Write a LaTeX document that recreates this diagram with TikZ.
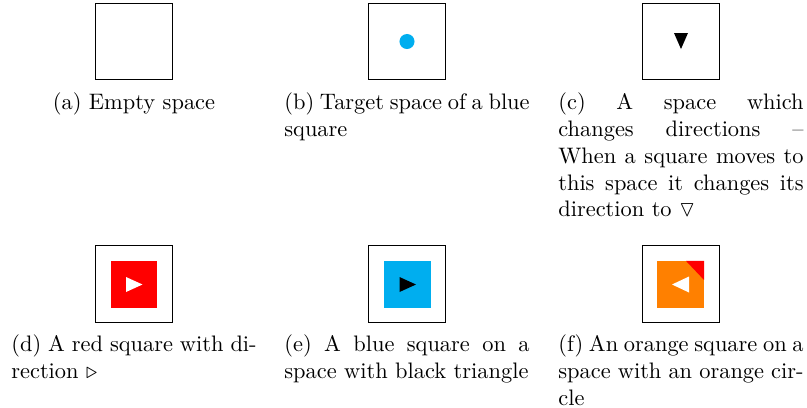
\documentclass[tikz,border=0pt]{standalone}
\usepackage{amsmath,amssymb}
\usetikzlibrary{positioning,calc}

\definecolor{tileblue}{RGB}{0,174,239}
\definecolor{tileorange}{RGB}{255,128,0}

\tikzset{
    spacebox/.style={draw, minimum size=34pt, inner sep=0pt},
    piece/.style={minimum size=20.6pt, inner sep=0pt},
    caption/.style={text width=109.5pt, inner sep=0pt, align=justify},
}

\begin{document}
\begin{tikzpicture}[x=0.4464pt, y=-0.4464pt]
    \useasboundingbox (0,0) rectangle (807,408);

    % first row of spaces
    \node[spacebox] (boxa) at (134,41.5) {};
    \node[spacebox] (boxb) at (407,41.5) {};
    \node[spacebox] (boxc) at (681,41.5) {};

    \fill[tileblue] (boxb.center) circle (3.35pt);
    \begin{scope}[shift={(boxc.center)}]
        \fill (-7,-8.5) -- (7,-8.5) -- (0,7.5) -- cycle;
    \end{scope}

    \node[caption, align=center, below=5.4pt of boxa] (capa) {(a) Empty space};
    \node[caption, below=5.4pt of boxb] (capb) {(b) Target space of a blue square};
    \node[caption, below=5.4pt of boxc] (capc) {(c) A space which changes directions -- When a square moves to this space it changes its direction to $\triangledown$};

    % second row: squares on spaces
    \node[spacebox] (boxd) at (134,284) {};
    \node[spacebox] (boxe) at (407,284) {};
    \node[spacebox] (boxf) at (681,284) {};

    \node[piece, fill=red] (sqd) at (134,284.5) {};
    \node[piece, fill=tileblue] (sqe) at (407.5,284.5) {};
    \node[piece, fill=tileorange] (sqf) at (680.5,284.5) {};

    \fill[white] ($(sqd.center)+(-8,-7.5)$) -- ++(0,15) -- ++(16.5,-7.5) -- cycle;
    \fill[black] ($(sqe.center)+(-8,-7.5)$) -- ++(0,15) -- ++(16.5,-7.5) -- cycle;
    \fill[red] (sqf.north east) -- ++(-18,0) -- ++(18,19) -- cycle;
    \fill[white] ($(sqf.center)+(8.5,-8)$) -- ++(0,16) -- ++(-17,-8) -- cycle;

    \node[caption, below=5.4pt of boxd] (capd) {(d) A red square with direction $\triangleright$};
    \node[caption, below=5.4pt of boxe] (cape) {(e) A blue square on a space with black triangle};
    \node[caption, below=5.4pt of boxf] (capf) {(f) An orange square on a space with an orange circle};
\end{tikzpicture}
\end{document}
